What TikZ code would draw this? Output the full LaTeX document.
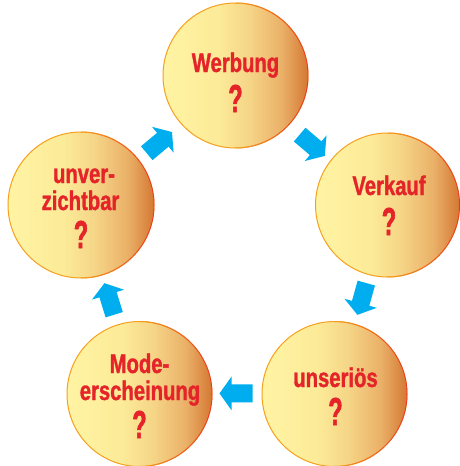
\documentclass[tikz,border=0pt]{standalone}
\usepackage{fontspec}
\usetikzlibrary{calc,arrows.meta}
\newfontfamily\lblfont[FakeStretch=0.75,FakeBold=1.2]{Liberation Sans}
\newfontfamily\qmfont[FakeStretch=0.6,FakeBold=1.6]{Liberation Sans}
\definecolor{txtred}{HTML}{E5242A}
\definecolor{arrblue}{HTML}{00AEEF}
\definecolor{edgeorange}{HTML}{F6A01E}
\definecolor{edgered}{HTML}{E8392C}
\definecolor{ga}{HTML}{FFF4A4}
\definecolor{gb}{HTML}{FCEB98}
\definecolor{gc}{HTML}{F5D486}
\definecolor{gd}{HTML}{EAB068}
\definecolor{ge}{HTML}{D47833}
\pgfdeclarehorizontalshading{ballshade}{100bp}{color(0bp)=(ga); color(25bp)=(ga); color(44bp)=(gb); color(55bp)=(gc); color(66bp)=(gd); color(75bp)=(ge); color(100bp)=(ge)}
\newcommand\rededge[2]{%
  \foreach \a in {-90,-85,...,85}{%
    \pgfmathtruncatemacro\mixv{max(0,100*cos(\a+2.5))}%
    \draw[line width=1pt, color=edgered!\mixv!edgeorange, x=1pt, y=1pt]
      ($(#1.center)+(\a:#2)$) arc[start angle=\a, end angle=\a+5, radius=#2];
  }}
\tikzset{
  ball/.style={circle, inner sep=0pt, outer sep=0pt, minimum size=#1, draw=edgeorange, line width=1pt, shading=ballshade},
  lbl/.style={inner sep=0pt, anchor=base, text=txtred, font=\lblfont\bfseries\fontsize{27}{27}\selectfont},
  qm/.style={inner sep=0pt, anchor=base, text=txtred, font=\qmfont\bfseries\fontsize{39}{39}\selectfont},
  blockarrow/.style={draw=arrblue, line width=18pt, line cap=butt, -{Triangle[width=33pt,length=12pt]}}
}
\begin{document}
\begin{tikzpicture}[x=1pt, y=-1pt]
\useasboundingbox (0,0) rectangle (460,466);
% circles
\node[ball=145pt] (W) at (235.5,75.5) {};
\node[ball=144pt] (V) at (387.5,205) {};
\node[ball=145pt] (U) at (334.5,394) {};
\node[ball=145pt] (M) at (139.5,394) {};
\node[ball=146pt] (Z) at (81,205) {};
\rededge{W}{72.5pt}
\rededge{V}{72pt}
\rededge{U}{72.5pt}
\rededge{M}{72.5pt}
\rededge{Z}{73pt}
% texts
\node[lbl] (wt) at (235.5,72) {Werbung};
\node[qm] (wq) at (235.5,112) {?};
\node[lbl] (vt) at (389,195) {Verkauf};
\node[qm] (vq) at (389,235) {?};
\node[lbl] (ut) at (335.5,387) {unseriös};
\node[qm] (uq) at (335.5,425) {?};
\node[lbl] (mt1) at (139.5,373) {Mode-};
\node[lbl] (mt2) at (140,400) {erscheinung};
\node[qm] (mq) at (139.5,438) {?};
\node[lbl] (zt1) at (84,183) {unver-};
\node[lbl] (zt2) at (80.5,210) {zichtbar};
\node[qm] (zq) at (81,248) {?};
% arrow midpoints
\coordinate (m1) at (159.7,143);
\coordinate (m2) at (311.8,145.8);
\coordinate (m3) at (362,299);
\coordinate (m4) at (236,393.3);
\coordinate (m5) at (109.2,299);
\draw[blockarrow] ($(m1)!16.5pt!(Z)$) -- ($(m1)!16.5pt!(W)$);
\draw[blockarrow] ($(m2)!16.5pt!(W)$) -- ($(m2)!16.5pt!(V)$);
\draw[blockarrow] ($(m3)!16.5pt!(V)$) -- ($(m3)!16.5pt!(U)$);
\draw[blockarrow] ($(m4)!16.5pt!(U)$) -- ($(m4)!16.5pt!(M)$);
\draw[blockarrow] ($(m5)!16.5pt!(M)$) -- ($(m5)!16.5pt!(Z)$);
\end{tikzpicture}
\end{document}
